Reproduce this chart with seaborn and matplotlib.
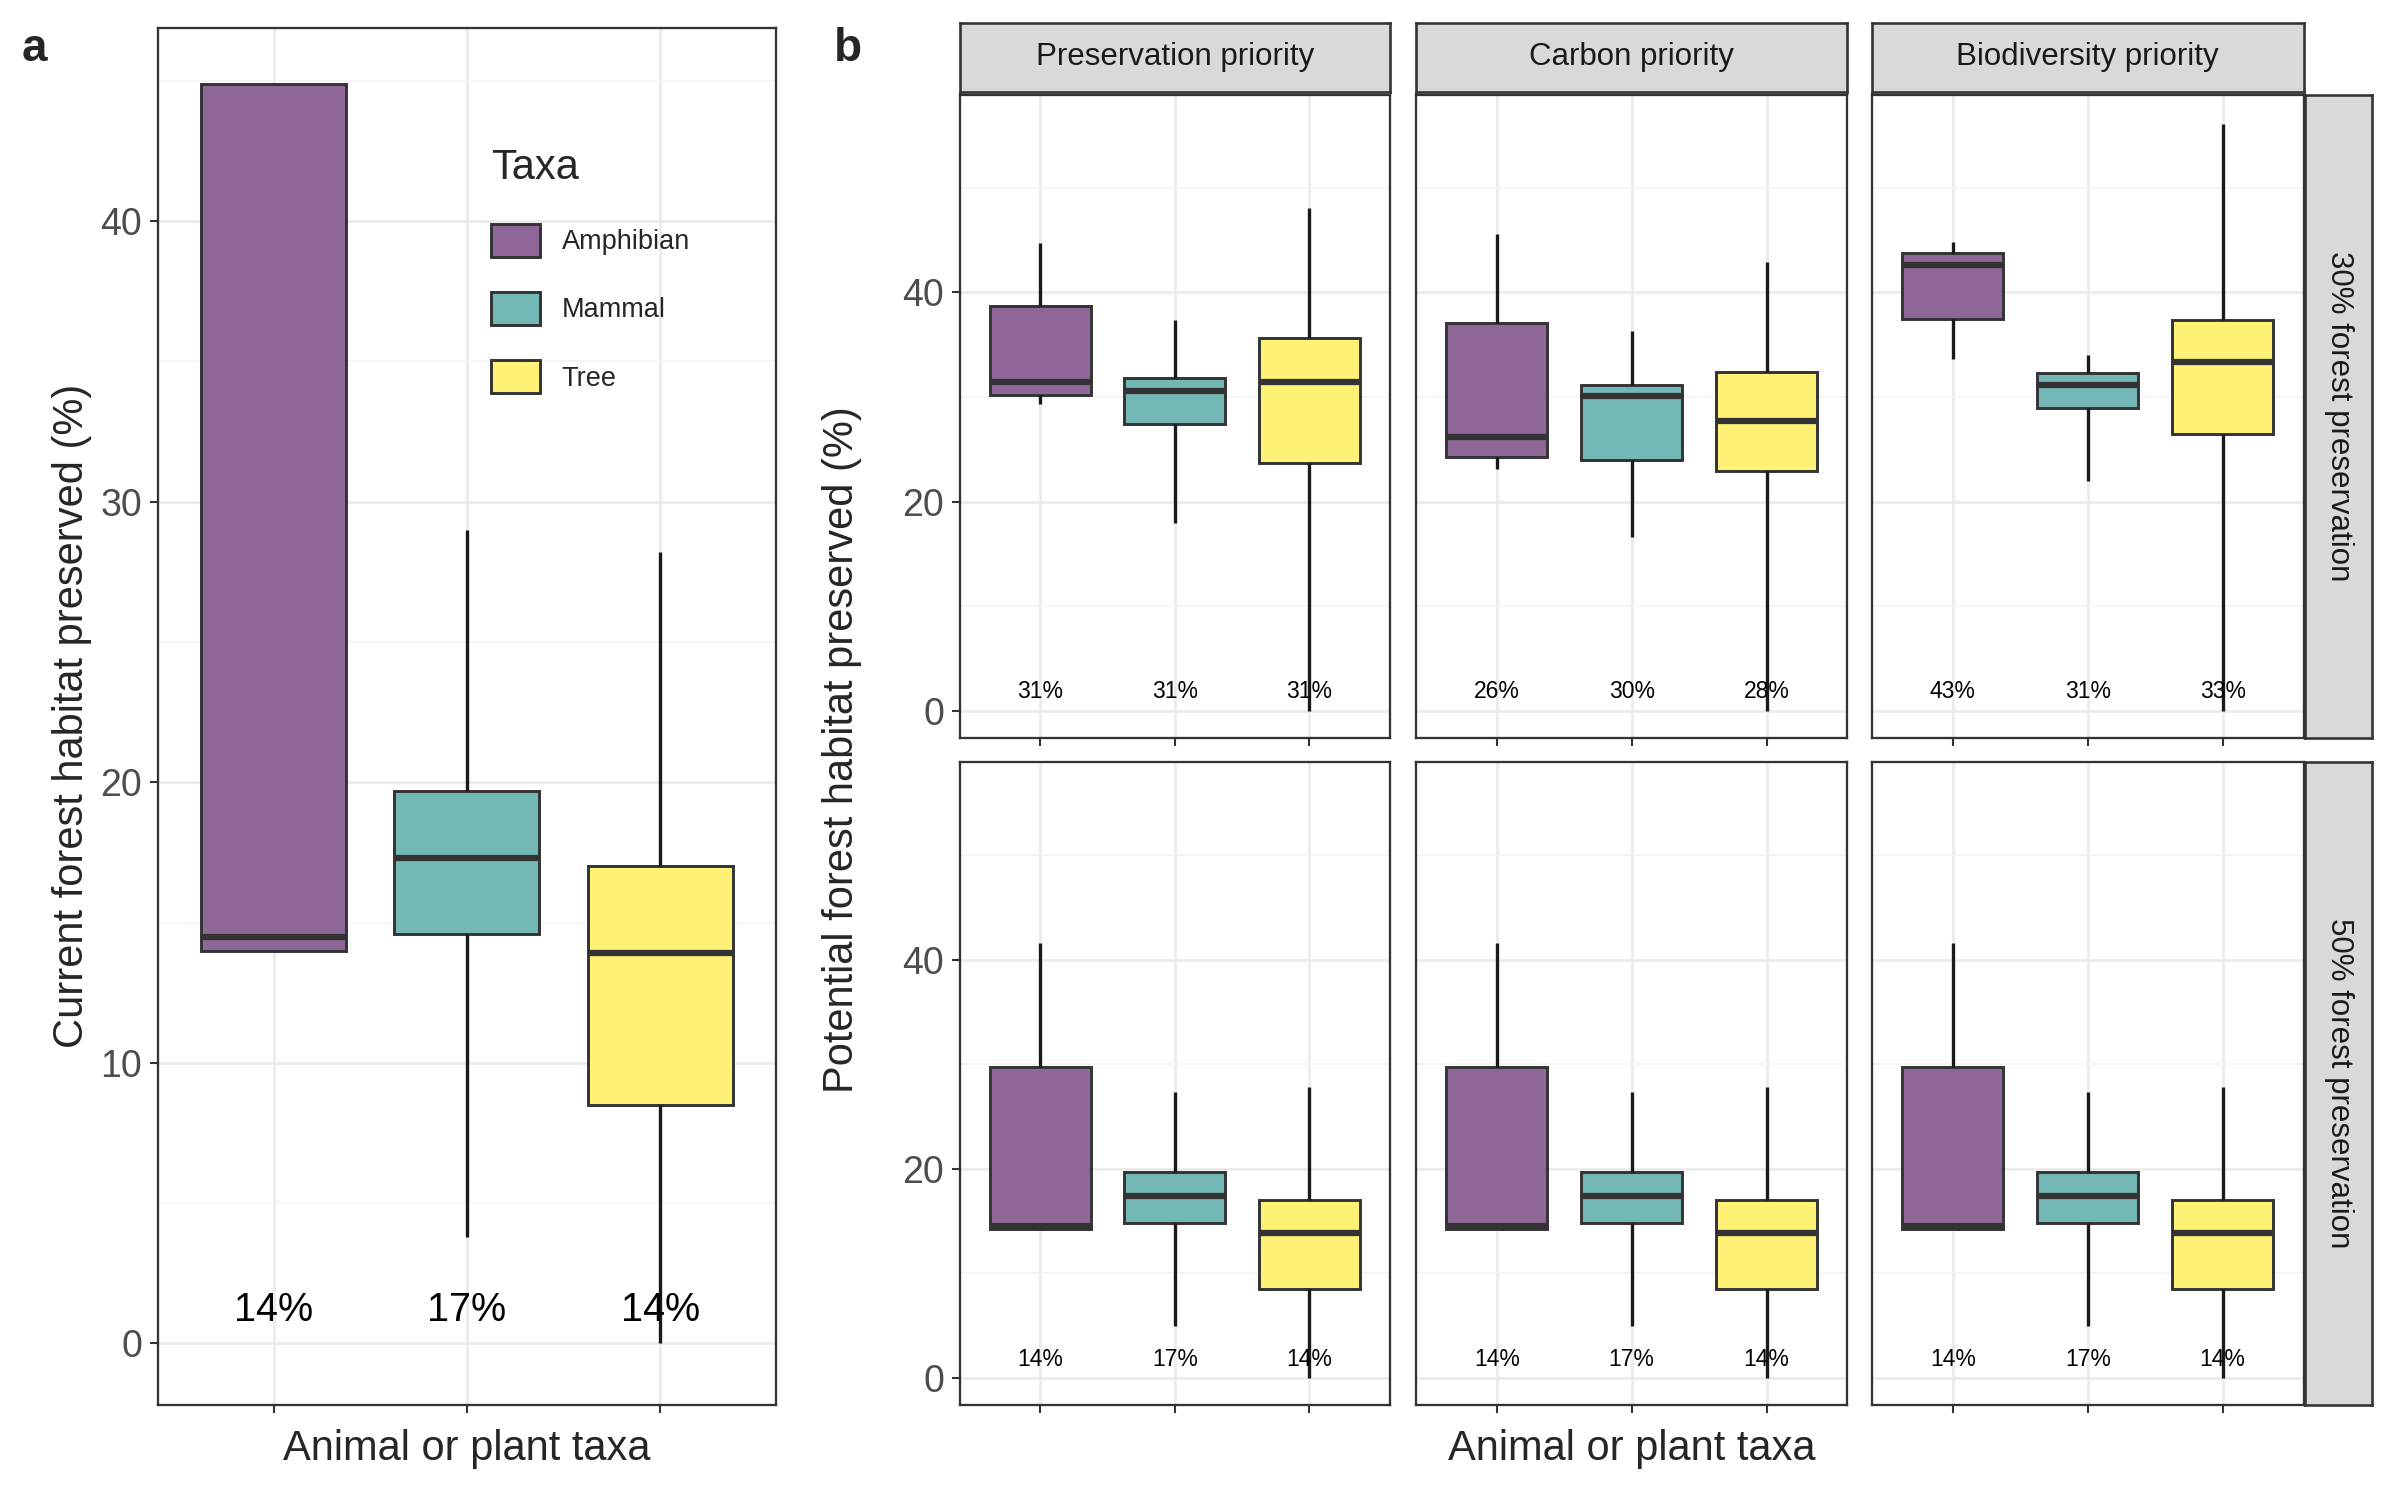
import numpy as np
import pandas as pd
import matplotlib.pyplot as plt
import seaborn as sns
from matplotlib.patches import Patch

taxa = ["Amphibian", "Mammal", "Tree"]
colors = ["#8f6698", "#73b8b6", "#fef175"]

# five-number summaries per taxon: min, q1, median, q3, max
current = {"Amphibian": [14.0, 14.0, 14.5, 44.9, 44.9],
           "Mammal": [3.8, 14.6, 17.3, 19.7, 29.0],
           "Tree": [0.0, 8.5, 13.9, 17.0, 28.2]}
current_labels = ["14%", "17%", "14%"]

priorities = ["Preservation priority", "Carbon priority", "Biodiversity priority"]
levels = ["30% forest preservation", "50% forest preservation"]

pot30 = {
    "Preservation priority": {"Amphibian": [29.3, 30.2, 31.4, 38.7, 44.7],
                              "Mammal": [17.9, 27.4, 30.6, 31.8, 37.4],
                              "Tree": [0.0, 23.7, 31.4, 35.6, 48.1]},
    "Carbon priority": {"Amphibian": [23.1, 24.3, 26.2, 37.1, 45.6],
                        "Mammal": [16.6, 24.0, 30.1, 31.1, 36.3],
                        "Tree": [0.0, 22.9, 27.7, 32.4, 42.9]},
    "Biodiversity priority": {"Amphibian": [33.6, 37.5, 42.6, 43.8, 44.8],
                              "Mammal": [22.0, 28.9, 31.1, 32.3, 34.0],
                              "Tree": [0.0, 26.5, 33.3, 37.4, 56.1]},
}
pot30_labels = {"Preservation priority": ["31%", "31%", "31%"],
                "Carbon priority": ["26%", "30%", "28%"],
                "Biodiversity priority": ["43%", "31%", "33%"]}

pot50_stats = {"Amphibian": [14.2, 14.2, 14.5, 29.7, 41.6],
               "Mammal": [5.0, 14.8, 17.4, 19.7, 27.4],
               "Tree": [0.0, 8.5, 13.9, 17.0, 27.8]}
pot50_labels = ["14%", "17%", "14%"]

sns.set_theme(style="white")
plt.rcParams['font.family'] = ['Liberation Sans', 'DejaVu Sans']

W, H = 1568, 980
fig = plt.figure(figsize=(16, 10), dpi=150)


def axes_px(x0, y0, x1, y1):
    return fig.add_axes([x0 / W, 1 - y1 / H, (x1 - x0) / W, (y1 - y0) / H])


def draw(ax, stats, labels, ylim, yticks, tick_fs, lab_fs, lab_y):
    df = pd.DataFrame([(t, v) for t in taxa for v in stats[t]], columns=["taxa", "value"])
    sns.boxplot(data=df, x="taxa", y="value", hue="taxa", order=taxa, hue_order=taxa,
                palette=colors, saturation=1, whis=np.inf, width=0.75, linecolor="#333333",
                linewidth=1.4, showcaps=False,
                whiskerprops={"color": "#1a1a1a", "linewidth": 1.6},
                medianprops={"linewidth": 3, "color": "#333333"},
                legend=False, ax=ax, zorder=3)
    ax.set_ylim(*ylim)
    ax.set_xlim(-0.6, 2.6)
    ax.set_yticks(yticks)
    step = yticks[1] - yticks[0]
    ax.set_yticks([t + step / 2 for t in yticks], minor=True)
    ax.grid(True, which="major", color="#ebebeb", linewidth=1.3, zorder=0)
    ax.grid(True, which="minor", axis="y", color="#f4f4f4", linewidth=0.8, zorder=0)
    ax.set_axisbelow(True)
    ax.set_xticks(range(3))
    ax.set_xticklabels([])
    ax.set_xlabel("")
    ax.set_ylabel("")
    ax.tick_params(axis="both", which="major", length=4, width=1, color="#333333",
                   labelsize=tick_fs, labelcolor="#4d4d4d", left=True, bottom=True)
    ax.tick_params(axis="y", which="minor", length=0)
    for s in ax.spines.values():
        s.set_color("#333333")
        s.set_linewidth(1.1)
    for i, lab in enumerate(labels):
        ax.text(i, lab_y, lab, ha="center", va="center", fontsize=lab_fs, color="black", zorder=5)


# panel a
axa = axes_px(103, 18, 507, 918)
draw(axa, current, current_labels, (-2.2, 46.9), [0, 10, 20, 30, 40], 18, 19, 1.2)
axa.set_ylabel("Current forest habitat preserved (%)", fontsize=20)
axa.set_xlabel("Animal or plant taxa", fontsize=20)

handles = [Patch(facecolor=c, edgecolor="#333333", linewidth=1.4) for c in colors]
leg = axa.legend(handles, taxa, title="Taxa", loc="upper left", bbox_to_anchor=(0.5, 0.93),
                 frameon=False, fontsize=13, title_fontsize=20, handlelength=1.8,
                 handleheight=1.5, labelspacing=1.3)
leg._legend_box.align = "left"

# panel b
cols = [(627, 908), (925, 1207), (1223, 1505)]
rows = [(62, 482), (498, 918)]
for r, (y0, y1) in enumerate(rows):
    for c, (x0, x1) in enumerate(cols):
        ax = axes_px(x0, y0, x1, y1)
        p = priorities[c]
        if r == 0:
            draw(ax, pot30[p], pot30_labels[p], (-2.6, 58.9), [0, 20, 40], 18, 11, 1.8)
        else:
            draw(ax, pot50_stats, pot50_labels, (-2.6, 58.9), [0, 20, 40], 18, 11, 1.8)
        if c > 0:
            ax.set_yticklabels([])
            ax.tick_params(axis="y", length=0)
        if r == 0:
            sa = axes_px(x0, 15, x1, 60)
            sa.set_facecolor("#d9d9d9")
            sa.set_xticks([]); sa.set_yticks([])
            for s in sa.spines.values():
                s.set_color("#333333")
            sa.text(0.5, 0.5, p, ha="center", va="center", fontsize=15, color="#1a1a1a",
                    transform=sa.transAxes)
        if c == 2:
            sr = axes_px(1506, y0, 1550, y1)
            sr.set_facecolor("#d9d9d9")
            sr.set_xticks([]); sr.set_yticks([])
            for s in sr.spines.values():
                s.set_color("#333333")
            sr.text(0.5, 0.5, levels[r], ha="center", va="center", fontsize=15, rotation=-90,
                    color="#1a1a1a", transform=sr.transAxes)

fig.text(1066 / W, 1 - 947 / H, "Animal or plant taxa", ha="center", va="center", fontsize=20)
fig.text(550 / W, 1 - 490 / H, "Potential forest habitat preserved (%)", ha="center",
         va="center", fontsize=20, rotation=90)
fig.text(14 / W, 1 - 32 / H, "a", fontsize=22, fontweight="bold", va="center")
fig.text(545 / W, 1 - 32 / H, "b", fontsize=22, fontweight="bold", va="center")

fig.savefig("out.png", dpi=150)
